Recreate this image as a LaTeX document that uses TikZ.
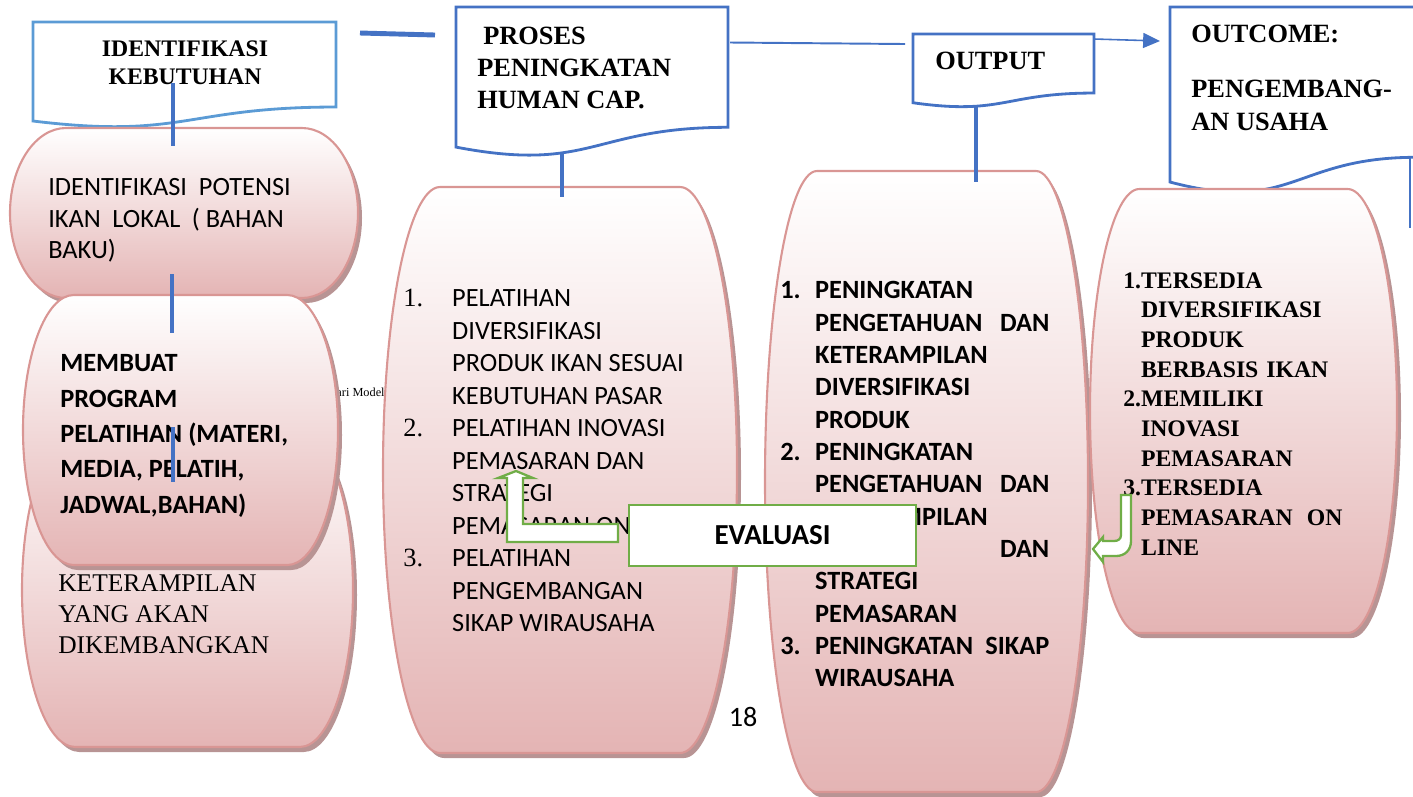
\documentclass[tikz,border=0pt]{standalone}
\usepackage{fontspec}
\setmainfont{Liberation Serif}
\newfontfamily\carl{Carlito}
\usetikzlibrary{arrows.meta}

\definecolor{blueA}{HTML}{4472C4}
\definecolor{blueL}{HTML}{5B9BD5}
\definecolor{pinkline}{HTML}{D99694}
\definecolor{pinkbot}{HTML}{E4B4B4}
\definecolor{pinkshadow}{HTML}{B89494}
\definecolor{greenA}{HTML}{70AD47}

\tikzset{
  docbox/.style={draw=blueA, line width=1.6pt, fill=white},
  doclight/.style={draw=blueL, line width=1.6pt, fill=white},
  conn/.style={draw=blueA, line width=2.3pt},
  thinconn/.style={draw=blueA, line width=1.1pt},
  txt/.style={inner sep=0pt, anchor=north west, align=left},
  greenarrow/.style={draw=greenA, line width=1.3pt, fill=white, line join=miter},
  evalbox/.style={draw=greenA, line width=1.6pt, fill=white, inner sep=0pt,
    minimum width=5.74cm, minimum height=1.22cm,
    font=\carl\bfseries\fontsize{16.5}{19}\selectfont},
}

\newcommand\lnum[2]{\makebox[#1][l]{#2}}

% pink terminator-like box: x0, ytop, x1, ybottom
\newcommand\pinkbox[4]{%
  \pgfmathsetmacro\pbr{0.161*(#3-#1)}%
  \pgfmathsetmacro\pbh{(#4-#2)/2}%
  \pgfmathsetmacro\pbm{(#2+#4)/2}%
  \pgfmathsetmacro\pbxa{#1+\pbr}%
  \pgfmathsetmacro\pbxb{#3-\pbr}%
  \pgfmathsetmacro\pbca{#1+0.4477*\pbr}%
  \pgfmathsetmacro\pbcb{#3-0.4477*\pbr}%
  \pgfmathsetmacro\pbya{\pbm-0.5523*\pbh}%
  \pgfmathsetmacro\pbyb{\pbm+0.5523*\pbh}%
  \def\pbpath{(\pbxa,#2) -- (\pbxb,#2) .. controls (\pbcb,#2) and (#3,\pbya) .. (#3,\pbm) .. controls (#3,\pbyb) and (\pbcb,#4) .. (\pbxb,#4) -- (\pbxa,#4) .. controls (\pbca,#4) and (#1,\pbyb) .. (#1,\pbm) .. controls (#1,\pbya) and (\pbca,#2) .. (\pbxa,#2) -- cycle}%
  \fill[pinkshadow, shift={(4,5)}] \pbpath;
  \path[draw=pinkline, line width=1.2pt, top color=white, bottom color=pinkbot] \pbpath;
}

% document shape: style, xl, ytop, xr, h
\newcommand\docshape[5]{%
  \pgfmathsetmacro\dcm{(#2+#4)/2}%
  \pgfmathsetmacro\dcr{#3+0.802*#5}%
  \pgfmathsetmacro\dcl{#3+0.934*#5}%
  \pgfmathsetmacro\dcc{#3+1.1075*#5}%
  \path[#1] (#2,#3) -- (#4,#3) -- (#4,\dcr) .. controls (\dcm,\dcr) and (\dcm,\dcc) .. (#2,\dcl) -- cycle;
}

\begin{document}
\begin{tikzpicture}[x=0.02cm, y=-0.02cm]
\useasboundingbox (0,0) rectangle (1413,796);
\clip (0,0) rectangle (1413,796);

% ---------- document shapes ----------
\docshape{doclight}{33}{22}{336}{106}
\node[inner sep=0pt, anchor=north, align=center, font=\bfseries\fontsize{13.5}{16}\selectfont] (tIK) at (185,36.1) {\strut IDENTIFIKASI\\KEBUTUHAN};

\docshape{docbox}{456}{7}{728}{150}
\node[txt, font=\bfseries\fontsize{15}{18.4}\selectfont] (tPROSES) at (477,21.1) {\strut\hspace*{3.4pt}PROSES\\PENINGKATAN\\HUMAN CAP.};

\docshape{docbox}{913}{34}{1094}{73.6}
\node[inner sep=0pt, anchor=base west, font=\bfseries\fontsize{15}{18}\selectfont] (tOUT) at (935,69.8) {OUTPUT};

\docshape{docbox}{1170}{7}{1416}{187.4}
\node[txt, font=\bfseries\fontsize{15}{18.7}\selectfont] (tOC) at (1191,18.7) {\strut OUTCOME:\\[13pt]PENGEMBANG-\\AN USAHA};

% ---------- top connectors ----------
\coordinate (s1) at (360,33);
\coordinate (s2) at (435,35);
\draw[blueA, line width=2.8pt] (s1) -- (s2);
\coordinate (p1) at (730,42.5);
\coordinate (p2) at (905,44);
\draw[thinconn] (p1) -- (p2);
\coordinate (o1) at (1094,39);
\coordinate (o2) at (1160,41);
\draw[blueA, line width=0.9pt, -{Triangle[length=9.6pt,width=8.5pt]}] (o1) -- (o2);

% stray text behind box B
\node[inner sep=0pt, anchor=base east, font=\fontsize{7}{8}\selectfont] (tModel) at (385,396) {ari Model};

% ---------- left column ----------
\pinkbox{10}{128}{358}{298}
\node[txt, font=\carl\fontsize{15}{17.9}\selectfont] (tA) at (48,173.4) {\strut\makebox[138pt][l]{IDENTIFIKASI\hfill POTENSI}\\\makebox[134pt][l]{IKAN\hfill LOKAL\hfill ( BAHAN}\\BAKU)};

\pinkbox{22}{433}{353}{747}
\node[txt, font=\fontsize{14.5}{17.6}\selectfont] (tC) at (58,569.8) {\strut KETERAMPILAN\\YANG AKAN\\DIKEMBANGKAN};

\pinkbox{23}{295}{338}{565}
\node[txt, font=\carl\bfseries\fontsize{15}{20.1}\selectfont] (tB) at (60,346.7) {\strut MEMBUAT\\PROGRAM\\PELATIHAN (MATERI,\\MEDIA, PELATIH,\\JADWAL,BAHAN)};

% ---------- middle column ----------
\pinkbox{383}{187}{737}{753}
\node[txt, font=\carl\fontsize{15}{18.5}\selectfont] (tM) at (403,283.7) {\strut\lnum{27.8pt}{\rmfamily 1.}PELATIHAN\\\hspace*{27.8pt}DIVERSIFIKASI\\\hspace*{27.8pt}PRODUK IKAN SESUAI\\\hspace*{27.8pt}KEBUTUHAN PASAR\\\lnum{27.8pt}{\rmfamily 2.}PELATIHAN INOVASI\\\hspace*{27.8pt}PEMASARAN DAN\\\hspace*{27.8pt}STRATEGI\\\hspace*{27.8pt}PEMASARAN ONLINE\\\lnum{27.8pt}{\rmfamily 3.}PELATIHAN\\\hspace*{27.8pt}PENGEMBANGAN\\\hspace*{27.8pt}SIKAP WIRAUSAHA};

\node[inner sep=0pt, font=\carl\fontsize{16}{19}\selectfont] (tPage) at (743,717) {18};

% ---------- output column ----------
\pinkbox{765}{171}{1088}{792}
\node[txt, text width=153.1pt, font=\carl\bfseries\fontsize{15}{18.4}\selectfont] (tO) at (780,275.8) {\strut\lnum{19.8pt}{1.}PENINGKATAN\\\hspace*{19.8pt}PENGETAHUAN\hfill DAN\\\hspace*{19.8pt}KETERAMPILAN\\\hspace*{19.8pt}DIVERSIFIKASI\\\hspace*{19.8pt}PRODUK\\\lnum{19.8pt}{2.}PENINGKATAN\\\hspace*{19.8pt}PENGETAHUAN\hfill DAN\\\hspace*{19.8pt}KETERAMPILAN\\\hspace*{19.8pt}\hfill DAN\\\hspace*{19.8pt}STRATEGI\\\hspace*{19.8pt}PEMASARAN\\\lnum{19.8pt}{3.}PENINGKATAN\hfill SIKAP\\\hspace*{19.8pt}WIRAUSAHA};

% ---------- outcome column ----------
\pinkbox{1090}{189}{1397}{633}
\node[txt, text width=124.7pt, font=\bfseries\fontsize{13.5}{16.9}\selectfont] (tR) at (1123,267) {\strut 1.TERSEDIA\\\hspace*{10.1pt}DIVERSIFIKASI\\\hspace*{10.1pt}PRODUK\\\hspace*{10.1pt}BERBASIS IKAN\\2.MEMILIKI\\\hspace*{10.1pt}INOVASI\\\hspace*{10.1pt}PEMASARAN\\3.TERSEDIA\\\hspace*{10.1pt}PEMASARAN\hfill ON\\\hspace*{10.1pt}LINE};

% ---------- vertical blue connectors ----------
\coordinate (c1a) at (173,83);   \coordinate (c1b) at (173,146);
\coordinate (c2a) at (172,274);  \coordinate (c2b) at (172,333);
\coordinate (c3a) at (173,427);  \coordinate (c3b) at (173,482);
\coordinate (c4a) at (562,152);  \coordinate (c4b) at (562,197);
\coordinate (c5a) at (976,107);  \coordinate (c5b) at (976,182);
\coordinate (c6a) at (1410,157); \coordinate (c6b) at (1410,228);
\draw[conn] (c1a) -- (c1b);
\draw[conn] (c2a) -- (c2b);
\draw[conn] (c3a) -- (c3b);
\draw[conn] (c4a) -- (c4b);
\draw[conn] (c5a) -- (c5b);
\draw[blueA, line width=1.6pt] (c6a) -- (c6b);

% ---------- evaluation ----------
\node[evalbox] (eval) at (772.5,535.5) {EVALUASI};
\path[greenarrow] (618,524) -- (523,524) -- (523,478) -- (533,478) -- (516,471) -- (498,478) -- (507,478) -- (507,542) -- (618,542) -- cycle;
\path[greenarrow] (1121,495) -- (1131,495) -- (1131,541) .. controls (1131,550) and (1125,556) .. (1116,556) -- (1103,556) -- (1103,562) -- (1093,549) -- (1103,537) -- (1103,541) -- (1114,541) .. controls (1118,541) and (1121,539) .. (1121,535) -- cycle;

\end{tikzpicture}
\end{document}
